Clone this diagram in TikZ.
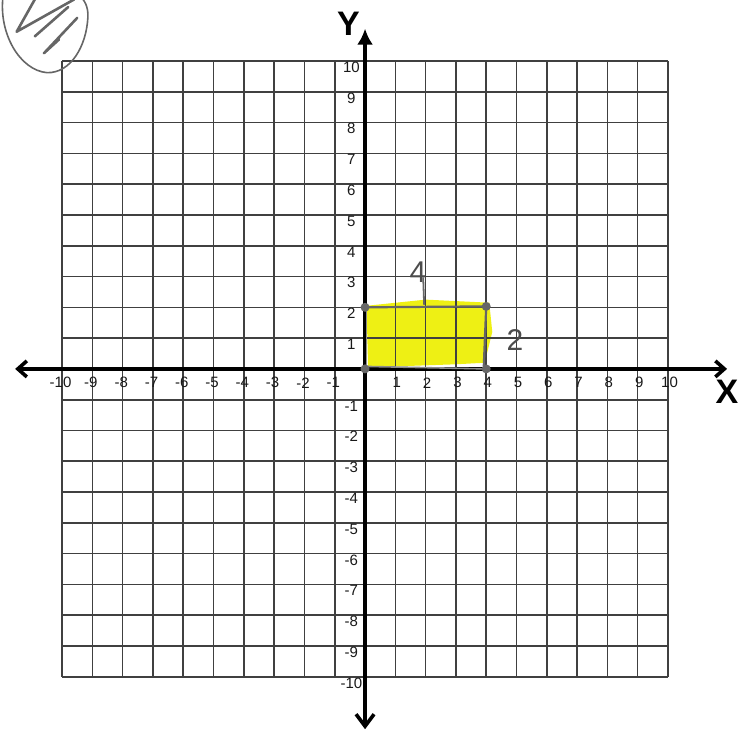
\documentclass[tikz,border=0pt]{standalone}
\usepackage{fontspec}
\setmainfont{Liberation Sans}
\usetikzlibrary{arrows.meta}
\begin{document}
\begin{tikzpicture}[x=30.3pt,y=30.8pt,
  gridline/.style={black!75,line width=1.6pt},
  axisline/.style={black,line width=3.6pt},
  ticklab/.style={font=\fontsize{15}{15}\selectfont,inner sep=0pt,black!90},
  pencil/.style={black!60,line width=2.2pt,line cap=round},
  hand/.style={font=\fontsize{30}{30}\selectfont,black!70,inner sep=0pt},
  axlab/.style={font=\fontsize{34}{34}\selectfont\bfseries,inner sep=0pt}]
\useasboundingbox (-12.05,-11.75) rectangle (12.41,11.98);
% yellow region
\fill[fill={rgb,255:red,238;green,240;blue,20}] (0.1,0.05) -- (0.05,2.05) -- (2,2.25) -- (4.1,2.15) -- (4.2,1.2) -- (3.95,0.2) -- (3,0.15) -- cycle;
% grid
\foreach \i in {-10,...,10}{
  \draw[gridline] (\i,-10) -- (\i,10);
  \draw[gridline] (-10,\i) -- (10,\i);
}
% axes
\coordinate (xl) at (-11.55,0);
\coordinate (xr) at (11.95,0);
\coordinate (yt) at (0,11.05);
\coordinate (yb) at (0,-11.7);
\draw[axisline,{Straight Barb[length=9pt,width=16pt]}-{Straight Barb[length=9pt,width=16pt]}] (xl) -- (xr);
\draw[axisline,{Straight Barb[length=12pt,width=18pt]}-{Latex[length=16pt,width=16pt]}] (yb) -- (yt);
\node[axlab] (ylab) at (-0.55,11.2) {Y};
\node[axlab] (xlab) at (11.95,-0.75) {X};
% tick labels
\foreach \i in {-10,...,-1}{
  \node[ticklab] (xt\i) at (\i-0.05,-0.45) {\i};
}
\foreach \i in {1,...,10}{
  \node[ticklab] (xt\i) at (\i+0.05,-0.45) {\i};
}
\foreach \j in {1,...,10}{
  \node[ticklab] (yt\j) at (-0.45,\j-0.2) {\j};
}
\foreach \j in {-10,...,-1}{
  \node[ticklab] (yn\j) at (-0.45,\j-0.2) {\j};
}
% pencil rectangle
\coordinate (p00) at (0,0);
\coordinate (p02) at (0,2);
\coordinate (p42) at (4,2.03);
\coordinate (p40) at (4,0);
\draw[pencil] (p02) -- (p42) -- (3.92,0.1);
\draw[pencil,black!45,line width=1.6pt] (0.05,0.08) -- (p40);
\draw[pencil,black!45,line width=1.6pt] (0.05,0.1) -- (0.05,1.95);
\foreach \p in {p00,p02,p42,p40}{ \fill[black!60] (\p) circle (4.5pt); }
% handwritten labels
\node[hand] (four) at (1.75,3.15) {4};
\draw[pencil,line width=1.8pt] (1.92,2.95) -- (1.95,2.1);
\node[hand] (two) at (4.95,0.95) {2};
% scribble in top-left corner
\draw[black!60,line width=1.6pt] (-11.95,12.1) .. controls (-12.1,10.9) and (-11.4,9.7) .. (-10.5,9.62)
  .. controls (-9.7,9.6) and (-9.2,10.5) .. (-9.15,11.4) .. controls (-9.12,11.8) and (-9.3,12.0) .. (-9.4,12.1);
\draw[black!60,line width=2.6pt,line cap=round,line join=round] (-11.5,10.95) -- (-10.9,12.0) (-11.5,10.95) -- (-9.6,12.0) (-10.9,10.8) -- (-9.8,11.75) (-10.6,10.25) -- (-9.5,11.4) (-10.6,10.25) -- (-10.1,10.7);
\end{tikzpicture}
\end{document}
